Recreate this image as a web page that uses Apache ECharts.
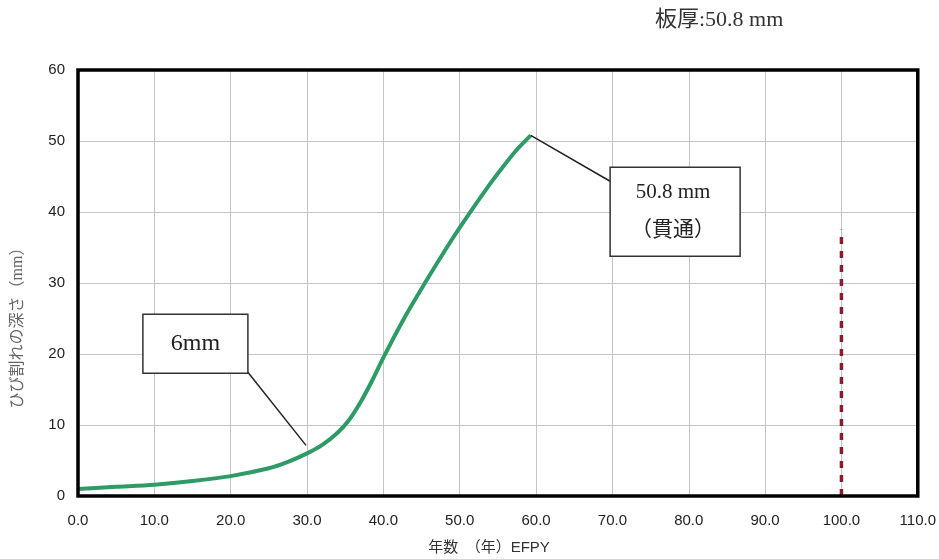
<!DOCTYPE html>
<html>
<head>
<meta charset="utf-8">
<script src="https://cdn.jsdelivr.net/npm/echarts@6/dist/echarts.min.js"></script>
<style>
  html, body { margin: 0; padding: 0; background: #fff; }
  #chart { width: 939px; height: 559px; }
</style>
</head>
<body>
<div id="chart"></div>
<script>
// Crack depth growth vs. operating years (EFPY)
const years = [0, 5, 10, 15, 20, 25, 27.5, 30, 32, 34, 35.5, 37, 38.5, 40, 42.6, 45.5, 47.9, 50, 53.6, 55.7, 57.5, 59.3];
const depth = [1.0, 1.3, 1.6, 2.1, 2.8, 3.9, 4.8, 6.0, 7.2, 8.9, 10.7, 13.2, 16.2, 19.5, 24.8, 30.1, 34.3, 37.8, 43.4, 46.4, 48.8, 50.8];
const limitYear = 100;
const limitLine = [[limitYear, 0], [limitYear, 37.5]];
const xTicks = [0, 10, 20, 30, 40, 50, 60, 70, 80, 90, 100, 110];
const yTicks = [0, 10, 20, 30, 40, 50, 60];
const titleText = '板厚:50.8 mm';
const xName = '年数\u3000（年）EFPY';
const yName = 'ひび割れの深さ（mm）';
const note1 = { text: '6mm', at: [30, 6.0] };
const note2 = { text: '50.8 mm\n（貫通）', at: [59.3, 50.8] };

const chart = echarts.init(document.getElementById('chart'));
const sans = '"Liberation Sans", Arial, "Noto Sans CJK JP", sans-serif';
const serif = '"Liberation Serif", "DejaVu Serif", "Noto Sans CJK JP", serif';

chart.setOption({
  animation: false,
  grid: { left: 78, right: 21, top: 70, bottom: 63 },
  xAxis: {
    type: 'value', min: xTicks[0], max: xTicks[xTicks.length - 1], interval: 10,
    axisLine: { show: false }, axisTick: { show: false },
    axisLabel: { color: '#222', fontSize: 15, fontFamily: sans, margin: 17, formatter: v => v.toFixed(1) },
    splitLine: { lineStyle: { color: '#c4c4c4', width: 1 } }
  },
  yAxis: {
    type: 'value', min: yTicks[0], max: yTicks[yTicks.length - 1], interval: 10,
    axisLine: { show: false }, axisTick: { show: false },
    axisLabel: { color: '#222', fontSize: 15, fontFamily: sans, margin: 13 },
    splitLine: { lineStyle: { color: '#c4c4c4', width: 1 } }
  },
  series: [
    {
      type: 'line', data: years.map((x, i) => [x, depth[i]]), smooth: 0.3, symbol: 'none',
      lineStyle: { color: '#2e9b66', width: 4 }, z: 3
    },
    {
      type: 'line', data: limitLine, symbol: 'none',
      lineStyle: { color: '#8b1a2b', width: 3.5, type: [7, 7] }, z: 4
    }
  ]
});

function px(p) { return chart.convertToPixel({ gridIndex: 0 }, p); }

const p1 = px(note1.at), p2 = px(note2.at);
const g0 = px([xTicks[0], yTicks[yTicks.length - 1]]);
const g1 = px([xTicks[xTicks.length - 1], yTicks[0]]);
const b1 = { x: px([8.5, 0])[0], y: px([0, 25.6])[1], w: 105, h: 59 };
const b2 = { x: px([69.7, 0])[0], y: px([0, 46.3])[1], w: 130, h: 89 };

chart.setOption({
  graphic: [
    // plot frame
    { type: 'rect', shape: { x: g0[0], y: g0[1], width: g1[0] - g0[0], height: g1[1] - g0[1] }, style: { fill: 'none', stroke: '#000', lineWidth: 3.5 }, z: 20 },
    { type: 'text', x: 655, y: 20, style: { text: titleText, font: '22px ' + serif, fill: '#333', textVerticalAlign: 'middle' } },
    { type: 'text', x: 489, y: 548, style: { text: xName, font: '15px ' + sans, fill: '#333', textAlign: 'center', textVerticalAlign: 'middle' } },
    { type: 'text', x: 18, y: 324, rotation: Math.PI / 2, style: { text: yName, font: '16px ' + serif, fill: '#666', textAlign: 'center', textVerticalAlign: 'middle' } },
    { type: 'line', shape: { x1: b1.x + b1.w, y1: b1.y + b1.h - 1, x2: p1[0] - 1, y2: p1[1] - 8 }, style: { stroke: '#222', lineWidth: 1.5 }, z: 10 },
    { type: 'rect', shape: { x: b1.x, y: b1.y, width: b1.w, height: b1.h }, style: { fill: '#fff', stroke: '#333', lineWidth: 1.5 }, z: 10 },
    { type: 'text', x: b1.x + b1.w / 2, y: b1.y + b1.h / 2, style: { text: note1.text, font: '24px ' + serif, fill: '#222', textAlign: 'center', textVerticalAlign: 'middle' }, z: 11 },
    { type: 'line', shape: { x1: p2[0], y1: p2[1], x2: b2.x, y2: b2.y + 14 }, style: { stroke: '#222', lineWidth: 1.5 }, z: 10 },
    { type: 'rect', shape: { x: b2.x, y: b2.y, width: b2.w, height: b2.h }, style: { fill: '#fff', stroke: '#333', lineWidth: 1.5 }, z: 10 },
    { type: 'text', x: b2.x + b2.w / 2 - 2, y: b2.y + b2.h / 2, style: { text: note2.text, font: '21px ' + serif, fill: '#222', textAlign: 'center', textVerticalAlign: 'middle', lineHeight: 38 }, z: 11 }
  ]
});
</script>
</body>
</html>
